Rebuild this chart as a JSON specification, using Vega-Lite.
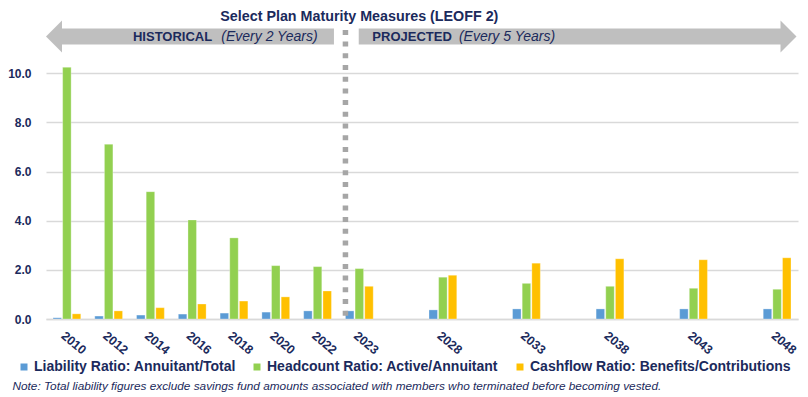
{
  "$schema": "https://vega.github.io/schema/vega-lite/v6.json",
  "width": 752,
  "height": 295,
  "autosize": {"type": "none"},
  "padding": {"left": 46, "top": 24, "right": 10, "bottom": 78},
  "background": "white",
  "config": {"view": {"stroke": null}, "font": "Liberation Sans"},
  "layer": [
    {
      "data": {
        "values": [
          {"year": "2010", "series": "Liability Ratio: Annuitant/Total", "value": 0.05},
          {"year": "2010", "series": "Headcount Ratio: Active/Annuitant", "value": 10.24},
          {"year": "2010", "series": "Cashflow Ratio: Benefits/Contributions", "value": 0.21},
          {"year": "2012", "series": "Liability Ratio: Annuitant/Total", "value": 0.12},
          {"year": "2012", "series": "Headcount Ratio: Active/Annuitant", "value": 7.11},
          {"year": "2012", "series": "Cashflow Ratio: Benefits/Contributions", "value": 0.33},
          {"year": "2014", "series": "Liability Ratio: Annuitant/Total", "value": 0.16},
          {"year": "2014", "series": "Headcount Ratio: Active/Annuitant", "value": 5.18},
          {"year": "2014", "series": "Cashflow Ratio: Benefits/Contributions", "value": 0.46},
          {"year": "2016", "series": "Liability Ratio: Annuitant/Total", "value": 0.2},
          {"year": "2016", "series": "Headcount Ratio: Active/Annuitant", "value": 4.03},
          {"year": "2016", "series": "Cashflow Ratio: Benefits/Contributions", "value": 0.61},
          {"year": "2018", "series": "Liability Ratio: Annuitant/Total", "value": 0.24},
          {"year": "2018", "series": "Headcount Ratio: Active/Annuitant", "value": 3.3},
          {"year": "2018", "series": "Cashflow Ratio: Benefits/Contributions", "value": 0.73},
          {"year": "2020", "series": "Liability Ratio: Annuitant/Total", "value": 0.28},
          {"year": "2020", "series": "Headcount Ratio: Active/Annuitant", "value": 2.17},
          {"year": "2020", "series": "Cashflow Ratio: Benefits/Contributions", "value": 0.9},
          {"year": "2022", "series": "Liability Ratio: Annuitant/Total", "value": 0.33},
          {"year": "2022", "series": "Headcount Ratio: Active/Annuitant", "value": 2.13},
          {"year": "2022", "series": "Cashflow Ratio: Benefits/Contributions", "value": 1.14},
          {"year": "2023", "series": "Liability Ratio: Annuitant/Total", "value": 0.33},
          {"year": "2023", "series": "Headcount Ratio: Active/Annuitant", "value": 2.05},
          {"year": "2023", "series": "Cashflow Ratio: Benefits/Contributions", "value": 1.33},
          {"year": "2028", "series": "Liability Ratio: Annuitant/Total", "value": 0.37},
          {"year": "2028", "series": "Headcount Ratio: Active/Annuitant", "value": 1.7},
          {"year": "2028", "series": "Cashflow Ratio: Benefits/Contributions", "value": 1.78},
          {"year": "2033", "series": "Liability Ratio: Annuitant/Total", "value": 0.41},
          {"year": "2033", "series": "Headcount Ratio: Active/Annuitant", "value": 1.45},
          {"year": "2033", "series": "Cashflow Ratio: Benefits/Contributions", "value": 2.27},
          {"year": "2038", "series": "Liability Ratio: Annuitant/Total", "value": 0.41},
          {"year": "2038", "series": "Headcount Ratio: Active/Annuitant", "value": 1.33},
          {"year": "2038", "series": "Cashflow Ratio: Benefits/Contributions", "value": 2.45},
          {"year": "2043", "series": "Liability Ratio: Annuitant/Total", "value": 0.41},
          {"year": "2043", "series": "Headcount Ratio: Active/Annuitant", "value": 1.25},
          {"year": "2043", "series": "Cashflow Ratio: Benefits/Contributions", "value": 2.41},
          {"year": "2048", "series": "Liability Ratio: Annuitant/Total", "value": 0.41},
          {"year": "2048", "series": "Headcount Ratio: Active/Annuitant", "value": 1.21},
          {"year": "2048", "series": "Cashflow Ratio: Benefits/Contributions", "value": 2.49}
        ]
      },
      "mark": {"type": "bar", "stroke": "white", "strokeOpacity": 0.5, "strokeWidth": 0.6},
      "encoding": {
        "x": {
          "field": "year",
          "type": "ordinal",
          "scale": {
            "domain": ["2010", "2012", "2014", "2016", "2018", "2020", "2022", "2023", "g1", "2028", "g2", "2033", "g3", "2038", "g4", "2043", "g5", "2048"],
            "paddingInner": 0.335,
            "paddingOuter": 0.1675
          },
          "axis": {
            "values": ["2010", "2012", "2014", "2016", "2018", "2020", "2022", "2023", "2028", "2033", "2038", "2043", "2048"],
            "labelAngle": 40,
            "labelAlign": "left",
            "labelBaseline": "top",
            "labelPadding": 10,
            "labelFont": "Liberation Sans",
            "labelFontSize": 12.5,
            "labelFontWeight": "bold",
            "labelColor": "#1B2A5C",
            "labelOverlap": false,
            "ticks": false,
            "grid": false,
            "domainColor": "#D9D9D9",
            "domainWidth": 1.5,
            "title": "Note: Total liability figures exclude savings fund amounts associated with members who terminated before becoming vested.",
            "titleFont": "Liberation Sans",
            "titleFontSize": 11.8,
            "titleFontStyle": "italic",
            "titleFontWeight": "normal",
            "titleColor": "#1B2A5C",
            "titleX": -34,
            "titleY": 66,
            "titleAlign": "left",
            "titleAnchor": "start",
            "titleBaseline": "middle",
            "titleAngle": 0
          }
        },
        "xOffset": {
          "field": "series",
          "type": "nominal",
          "scale": {
            "domain": ["Liability Ratio: Annuitant/Total", "Headcount Ratio: Active/Annuitant", "Cashflow Ratio: Benefits/Contributions"],
            "paddingInner": 0.12,
            "paddingOuter": 0
          }
        },
        "y": {
          "field": "value",
          "type": "quantitative",
          "scale": {"domain": [0, 12], "nice": false},
          "axis": {
            "values": [0, 2, 4, 6, 8, 10],
            "format": ".1f",
            "labelFont": "Liberation Sans",
            "labelFontSize": 12,
            "labelFontWeight": "bold",
            "labelColor": "#1B2A5C",
            "labelPadding": 15,
            "ticks": false,
            "domain": false,
            "gridColor": "#D9D9D9",
            "gridWidth": 1.3,
            "title": null
          }
        },
        "color": {
          "field": "series",
          "type": "nominal",
          "scale": {
            "domain": ["Liability Ratio: Annuitant/Total", "Headcount Ratio: Active/Annuitant", "Cashflow Ratio: Benefits/Contributions"],
            "range": ["#5B9BD5", "#92D050", "#FFC000"]
          },
          "legend": {
            "orient": "none",
            "legendX": -29,
            "legendY": 336,
            "direction": "horizontal",
            "title": null,
            "symbolType": "square",
            "symbolSize": 49,
            "symbolStrokeWidth": 0,
            "labelFont": "Liberation Sans",
            "labelFontSize": 14,
            "labelFontWeight": "bold",
            "labelColor": "#1B2A5C",
            "labelOffset": 3,
            "columnPadding": 14,
            "padding": 0,
            "labelLimit": 400
          }
        }
      }
    },
    {
      "data": {"values": [{}]},
      "mark": {"type": "rule", "color": "#A6A6A6", "strokeWidth": 5.5, "strokeDash": [5, 6.7], "strokeCap": "butt"},
      "encoding": {
        "x": {"datum": "2023", "type": "ordinal", "bandPosition": 0},
        "y": {"datum": 11.76, "type": "quantitative"},
        "y2": {"datum": -0.04}
      }
    },
    {
      "data": {"values": [{}]},
      "mark": {"type": "rule", "color": "#BFBFBF", "strokeWidth": 16, "strokeCap": "butt", "xOffset": -4.9, "x2Offset": 16.4},
      "encoding": {
        "x": {"datum": "2010", "type": "ordinal"},
        "x2": {"datum": "2022"},
        "y": {"datum": 11.49, "type": "quantitative"}
      }
    },
    {
      "data": {"values": [{}]},
      "mark": {"type": "rule", "color": "#BFBFBF", "strokeWidth": 16, "strokeCap": "butt", "xOffset": -0.6, "x2Offset": 3.9},
      "encoding": {
        "x": {"datum": "2023", "type": "ordinal"},
        "x2": {"datum": "2048"},
        "y": {"datum": 11.49, "type": "quantitative"}
      }
    },
    {
      "data": {"values": [{}]},
      "mark": {"type": "point", "shape": "M-1,0L1,-2L1,2Z", "size": 256, "filled": true, "color": "#BFBFBF", "opacity": 1, "strokeWidth": 0, "xOffset": -12.9},
      "encoding": {
        "x": {"datum": "2010", "type": "ordinal"},
        "y": {"datum": 11.49, "type": "quantitative"}
      }
    },
    {
      "data": {"values": [{}]},
      "mark": {"type": "point", "shape": "M1,0L-1,-2L-1,2Z", "size": 256, "filled": true, "color": "#BFBFBF", "opacity": 1, "strokeWidth": 0, "xOffset": 11.4},
      "encoding": {
        "x": {"datum": "2048", "type": "ordinal"},
        "y": {"datum": 11.49, "type": "quantitative"}
      }
    },
    {
      "data": {"values": [{}]},
      "mark": {"type": "text", "text": "Select Plan Maturity Measures (LEOFF 2)", "font": "Liberation Sans", "fontSize": 14.3, "fontWeight": "bold", "color": "#1B2A5C", "align": "center", "baseline": "alphabetic"},
      "encoding": {
        "x": {"datum": "2023", "type": "ordinal"},
        "y": {"datum": 12.12, "type": "quantitative"}
      }
    },
    {
      "data": {"values": [{}]},
      "mark": {"type": "text", "text": "HISTORICAL", "font": "Liberation Sans", "fontSize": 13, "fontWeight": "bold", "color": "#1B2A5C", "align": "left", "baseline": "alphabetic", "dx": 24.3},
      "encoding": {
        "x": {"datum": "2012", "type": "ordinal"},
        "y": {"datum": 11.32, "type": "quantitative"}
      }
    },
    {
      "data": {"values": [{}]},
      "mark": {"type": "text", "text": "(Every 2 Years)", "font": "Liberation Sans", "fontSize": 14, "fontStyle": "italic", "color": "#1B2A5C", "align": "right", "baseline": "alphabetic", "dx": 0},
      "encoding": {
        "x": {"datum": "2022", "type": "ordinal"},
        "y": {"datum": 11.32, "type": "quantitative"}
      }
    },
    {
      "data": {"values": [{}]},
      "mark": {"type": "text", "text": "PROJECTED", "font": "Liberation Sans", "fontSize": 13, "fontWeight": "bold", "color": "#1B2A5C", "align": "left", "baseline": "alphabetic", "dx": 13},
      "encoding": {
        "x": {"datum": "2023", "type": "ordinal"},
        "y": {"datum": 11.32, "type": "quantitative"}
      }
    },
    {
      "data": {"values": [{}]},
      "mark": {"type": "text", "text": "(Every 5 Years)", "font": "Liberation Sans", "fontSize": 14, "fontStyle": "italic", "color": "#1B2A5C", "align": "left", "baseline": "alphabetic", "dx": 16},
      "encoding": {
        "x": {"datum": "2028", "type": "ordinal"},
        "y": {"datum": 11.32, "type": "quantitative"}
      }
    }
  ]
}
